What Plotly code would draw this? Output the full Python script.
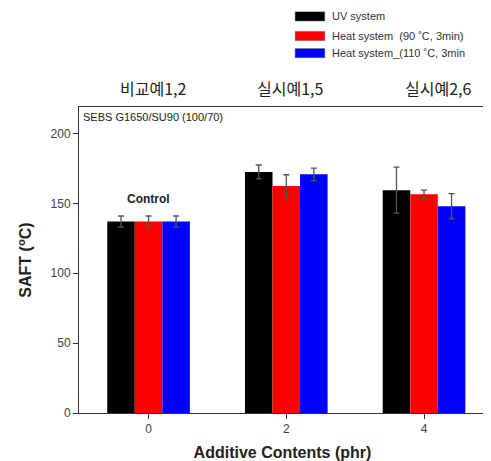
import plotly.graph_objects as go

additive = [0, 2, 4]
series_names = ["UV system", "Heat system  (90 \u02daC, 3min)", "Heat system_(110 \u02daC, 3min"]
uv_vals = [137, 172.5, 159.5]
uv_err = [4, 5, 16.5]
heat90_vals = [137, 162.5, 156.5]
heat90_err = [4, 8, 3]
heat110_vals = [137, 170.8, 148]
heat110_err = [4, 4.5, 9]
group_labels = ["비교예1,2", "실시예1,5", "실시예2,6"]

colors = ["#000000", "#ff0000", "#0000ff"]
offsets = [-0.6, -0.2, 0.2]
vals = [uv_vals, heat90_vals, heat110_vals]
errs = [uv_err, heat90_err, heat110_err]

fig = go.Figure()
for name, v, e, c, off in zip(series_names, vals, errs, colors, offsets):
    fig.add_trace(go.Bar(
        x=additive, y=v, name=name, width=0.4, offset=off, showlegend=False,
        marker=dict(color=c, line=dict(width=0)),
        error_y=dict(type="data", array=e, visible=True, color="#555555", thickness=1.3, width=3),
    ))

axis_common = dict(showline=True, linecolor="#333333", linewidth=1, mirror=True, automargin=False,
                   ticks="outside", ticklen=5, tickcolor="#333333", showgrid=False, zeroline=False,
                   tickfont=dict(family="Liberation Sans, Arial", size=12, color="#444444"))

fig.update_layout(
    width=483, height=453,
    margin=dict(l=71, r=5, t=99, b=48),
    plot_bgcolor="white", paper_bgcolor="white",
    barmode="overlay",
    showlegend=False,
    xaxis=dict(range=[-1.01, 4.9], tickvals=additive, ticktext=[str(a) for a in additive],
               title=dict(text="<b>Additive Contents (phr)</b>", standoff=12,
                          font=dict(family="Liberation Sans, Arial", size=16, color="#222222")),
               **axis_common),
    yaxis=dict(range=[0, 219], tickvals=[0, 50, 100, 150, 200],
               title=dict(text="<b>SAFT (<sup>o</sup>C)</b>", standoff=14,
                          font=dict(family="Liberation Sans, Arial", size=16, color="#222222")),
               **axis_common),
)

# custom legend (wide swatches like the reference)
legend_rows_y = [1.296, 1.232, 1.176]
for name, c, ly in zip(series_names, colors, legend_rows_y):
    fig.add_shape(type="rect", xref="paper", yref="paper", x0=0.531, x1=0.604,
                  y0=ly - 0.015, y1=ly + 0.015, fillcolor=c, line=dict(width=0.5, color="#666666"))
    fig.add_annotation(x=0.617, y=ly, xref="paper", yref="paper", xanchor="left", yanchor="middle",
                       text=name, showarrow=False,
                       font=dict(family="Liberation Sans, Arial", size=11, color="#333333"))

fig.add_annotation(x=0, y=153, xref="x", yref="y", text="<b>Control</b>", showarrow=False,
                   font=dict(family="Liberation Sans, Arial", size=12, color="#222222"))
fig.add_annotation(x=0.005, y=0.992, xref="paper", yref="paper", xanchor="left", yanchor="top",
                   text="SEBS G1650/SU90 (100/70)", showarrow=False,
                   font=dict(family="Liberation Sans, Arial", size=11, color="#222222"))
for xpos, lab in zip([0.07, 2.06, 4.2], group_labels):
    fig.add_annotation(x=xpos, y=1.062, xref="x", yref="paper", yanchor="middle", text=lab,
                       showarrow=False, font=dict(family="Noto Sans CJK KR", size=16, color="#222222"))

fig.write_html("out.html")
